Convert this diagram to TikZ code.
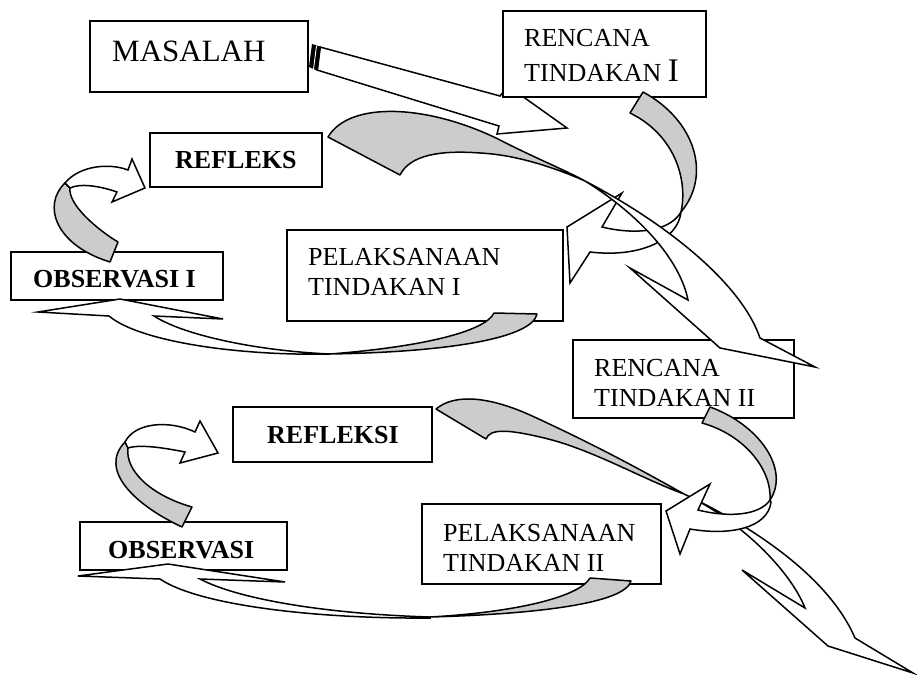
\documentclass[tikz,border=0pt]{standalone}
\usepackage{fontspec}
\setmainfont{Liberation Serif}
\begin{document}
\begin{tikzpicture}[x=1pt,y=-1pt,
  box/.style={draw, line width=1.9pt, fill=white, inner sep=0pt},
  lbl/.style={inner sep=0pt, anchor=base west, font=\fontsize{26}{30}\selectfont},
  blbl/.style={inner sep=0pt, anchor=base west, font=\fontsize{26}{30}\selectfont\bfseries},
  ribbon/.style={draw, line width=1.5pt, fill=black!20, line join=round},
  shell/.style={draw, line width=1.5pt, fill=white, line join=miter},
]
\useasboundingbox (0,0) rectangle (917,674);

% straight arrow MASALAH -> RENCANA I
\draw[shell] (320,47) -- (500,96) -- (508,86) -- (567,128) -- (497,134) -- (499,126) -- (317,70) -- cycle;
\fill[black] (312,44) -- (321,47) -- (318,71) -- (309,67) -- cycle;
\draw[white, line width=0.9pt] (316.5,46) -- (313.5,69);

% boxes
\node[box, minimum width=218pt, minimum height=71pt] (masalah) at (199,56.5) {};
\node[box, minimum width=203pt, minimum height=86pt] (ren1) at (604.5,54) {};
\node[box, minimum width=172pt, minimum height=54pt] (refleks) at (236,160) {};
\node[box, minimum width=212pt, minimum height=48pt] (obs1) at (117,276) {};
\node[box, minimum width=276pt, minimum height=91pt] (pel1) at (425,275.5) {};
\node[box, minimum width=221pt, minimum height=78pt] (ren2) at (683.5,379) {};
\node[box, minimum width=199pt, minimum height=55pt] (refleksi) at (332.5,434.5) {};
\node[box, minimum width=207pt, minimum height=48pt] (obs2) at (183.5,546) {};
\node[box, minimum width=239pt, minimum height=80pt] (pel2) at (541.5,544) {};

% texts
\node[inner sep=0pt, anchor=base west, font=\fontsize{31}{35}\selectfont] (tmas) at (112,62) {MASALAH};
\node[lbl] (tr1a) at (524,47) {RENCANA};
\node[lbl] (tr1b) at (524,82) {TINDAKAN {\fontsize{33}{33}\selectfont I}};
\node[blbl] (tref) at (175,168) {REFLEKS};
\node[blbl] (tobs1) at (33,287) {OBSERVASI I};
\node[lbl] (tp1a) at (308,265) {PELAKSANAAN};
\node[lbl] (tp1b) at (308,295) {TINDAKAN I};
\node[lbl] (tr2a) at (594,376) {RENCANA};
\node[lbl] (tr2b) at (594,406) {TINDAKAN II};
\node[blbl] (trefi) at (267,443) {REFLEKSI};
\node[blbl] (tobs2) at (108,558) {OBSERVASI};
\node[lbl] (tp2a) at (443,541) {PELAKSANAAN};
\node[lbl] (tp2b) at (443,571) {TINDAKAN II};

% ---- cycle I ----
% B: RENCANA I -> PELAKSANAAN I
\draw[ribbon] (643,92) .. controls (695,120) and (712,175) .. (681,212)
  .. controls (688,180) and (675,135) .. (630,113) -- cycle;
\draw[shell] (681,212) .. controls (668,234) and (630,234) .. (602,227)
  -- (622,193) -- (567,227) -- (570,283) -- (590,252)
  .. controls (640,258) and (678,240) .. (681,212) -- cycle;

% E: REFLEKS -> RENCANA II
\draw[ribbon] (328,137) .. controls (350,100) and (430,105) .. (500,140)
  .. controls (535,158) and (565,170) .. (585,181)
  .. controls (560,170) and (520,155) .. (480,153)
  .. controls (440,150) and (410,155) .. (400,175) -- cycle;
\draw[shell] (585,181) .. controls (660,220) and (740,280) .. (760,338)
  -- (815,367) -- (720,348) -- (630,268) -- (688,300)
  .. controls (680,260) and (640,215) .. (585,181) -- cycle;

% C: PELAKSANAAN I -> OBSERVASI I
\draw[ribbon] (494,313) -- (537,314) .. controls (532,338) and (450,352) .. (330,354)
  .. controls (420,347) and (485,332) .. (494,313) -- cycle;
\draw[shell] (330,354) .. controls (260,351) and (185,336) .. (154,316)
  -- (223,319) -- (120,299) -- (38,312) -- (109,316)
  .. controls (140,342) and (240,356) .. (330,354) -- cycle;

% D: OBSERVASI I -> REFLEKS
\draw[ribbon] (118,242) -- (110,262) .. controls (55,245) and (42,205) .. (65,183)
  -- (70,188) .. controls (68,205) and (98,230) .. (118,242) -- cycle;
\draw[shell] (65,183) .. controls (80,165) and (110,163) .. (128,170)
  -- (132,159) -- (145,188) -- (112,202) -- (117,192)
  .. controls (100,186) and (80,183) .. (70,188) -- cycle;

% ---- cycle II ----
% I: REFLEKSI -> out
\draw[ribbon] (436,409) .. controls (455,393) and (490,397) .. (530,415)
  .. controls (600,447) and (650,475) .. (684,494)
  .. controls (640,478) and (590,448) .. (540,437)
  .. controls (510,430) and (490,428) .. (486,439) -- cycle;
\draw[shell] (684,494) .. controls (760,530) and (830,580) .. (855,638)
  -- (913,673) -- (828,646) -- (742,570) -- (805,608)
  .. controls (790,570) and (740,520) .. (684,494) -- cycle;

% F: RENCANA II -> PELAKSANAAN II
\draw[ribbon] (710,407) .. controls (760,425) and (790,470) .. (770,500)
  .. controls (772,470) and (745,435) .. (702,423) -- cycle;
\draw[shell] (770,500) .. controls (760,515) and (730,518) .. (698,510)
  -- (710,484) -- (666,511) -- (680,554) -- (690,529)
  .. controls (730,536) and (768,528) .. (771,502) -- cycle;

% G: PELAKSANAAN II -> OBSERVASI
\draw[ribbon] (590,578) -- (631,581) .. controls (625,603) and (540,614) .. (430,617)
  .. controls (520,612) and (580,596) .. (590,578) -- cycle;
\draw[shell] (430,617) .. controls (330,614) and (240,600) .. (200,579)
  -- (285,582) -- (168,564) -- (78,576) -- (160,579)
  .. controls (200,606) and (320,619) .. (430,618) -- cycle;

% H: OBSERVASI -> REFLEKSI
\draw[ribbon] (192,507) -- (182,527) .. controls (135,505) and (98,470) .. (125,442)
  -- (128,448) .. controls (125,470) and (150,495) .. (192,507) -- cycle;
\draw[shell] (125,442) .. controls (135,422) and (170,420) .. (195,432)
  -- (200,421) -- (218,453) -- (180,463) -- (185,452)
  .. controls (165,448) and (140,444) .. (128,448) -- cycle;
\end{tikzpicture}
\end{document}
